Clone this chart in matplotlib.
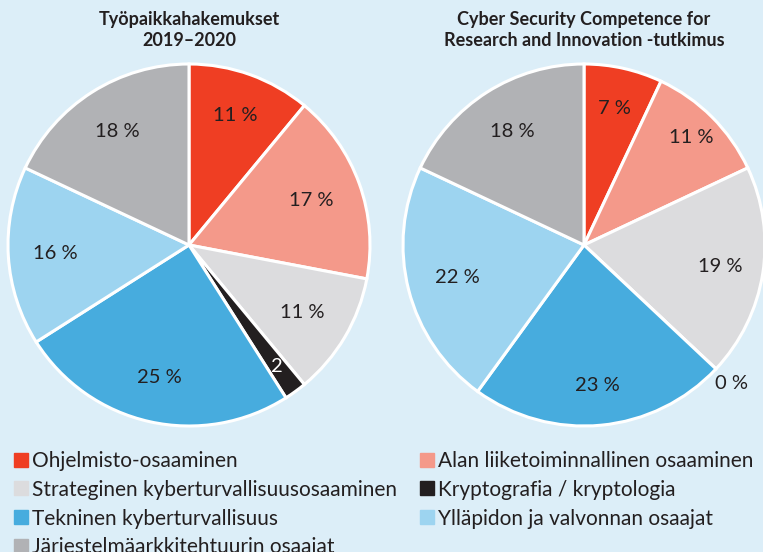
#!/usr/bin/env python3

import numpy as np
import matplotlib
matplotlib.use("Agg")
import matplotlib.pyplot as plt
import matplotlib.lines as mlines

plt.rcParams["font.family"] = ["Lato", "DejaVu Sans"]

categories = [
    "Ohjelmisto-osaaminen",
    "Alan liiketoiminnallinen osaaminen",
    "Strateginen kyberturvallisuusosaaminen",
    "Kryptografia / kryptologia",
    "Tekninen kyberturvallisuus",
    "Ylläpidon ja valvonnan osaajat",
    "Järjestelmäarkkitehtuurin osaajat",
]
left_values = [11, 17, 11, 2, 25, 16, 18]
right_values = [7, 11, 19, 0, 23, 22, 18]
left_labels = ["11 %", "17 %", "11 %", "2", "25 %", "16 %", "18 %"]
right_labels = ["7 %", "11 %", "19 %", "0 %", "23 %", "22 %", "18 %"]
left_title = "Työpaikkahakemukset\n2019–2020"
right_title = "Cyber Security Competence for\nResearch and Innovation -tutkimus"

colors = ["#EF3E23", "#F4998A", "#DCDCDE", "#231F20",
          "#47ACDE", "#9DD4F0", "#B1B2B5"]
bg = "#DCEEF8"
dark = "#231F20"

W, H = 763, 552
fig = plt.figure(figsize=(W / 100, H / 100), dpi=100, facecolor=bg)
ax = fig.add_axes([0, 0, 1, 1])
ax.set_xlim(0, W)
ax.set_ylim(0, H)
ax.set_aspect("equal")
ax.axis("off")

R = 181


def draw_pie(values, labels, center, dists, lcolors):
    wedges, _ = ax.pie(values, colors=colors, startangle=90, counterclock=False,
                       center=center, radius=R, frame=True,
                       wedgeprops=dict(edgecolor="white", linewidth=2.2))
    for w, lab, d, c in zip(wedges, labels, dists, lcolors):
        ang = np.deg2rad((w.theta1 + w.theta2) / 2)
        x = center[0] + d * R * np.cos(ang)
        y = center[1] + d * R * np.sin(ang)
        ax.text(x, y, lab, ha="center", va="center", fontsize=14.5, color=c)


draw_pie(left_values, left_labels, (189, H - 245),
         [0.76, 0.72, 0.73, 0.83, 0.75, 0.74, 0.74],
         [dark, dark, dark, "white", dark, dark, dark])
draw_pie(right_values, right_labels, (584, H - 245),
         [0.77, 0.84, 0.76, 1.12, 0.78, 0.72, 0.74],
         [dark] * 7)

ax.set_xlim(0, W)
ax.set_ylim(0, H)
ax.axis("off")

ax.text(189, H - 30, left_title, ha="center", va="center", fontsize=13,
        fontweight="bold", color=dark, linespacing=1.35)
ax.text(584, H - 30, right_title, ha="center", va="center", fontsize=13,
        fontweight="bold", color=dark, linespacing=1.35)

# legend in two columns, placed separately
columns = [([0, 2, 4, 6], 0.008), ([1, 3, 5], 0.540)]
for idx, xpos in columns:
    handles = [mlines.Line2D([], [], marker="s", markersize=9.5, linewidth=0,
                             color=colors[i]) for i in idx]
    names = [categories[i] for i in idx]
    fig.legend(handles, names, loc="upper left",
               bbox_to_anchor=(xpos, 0.198), frameon=False,
               fontsize=15, handlelength=0.6,
               handletextpad=0.25, labelspacing=0.42, labelcolor=dark,
               borderaxespad=0)

fig.savefig("out.png", dpi=100, facecolor=bg)
